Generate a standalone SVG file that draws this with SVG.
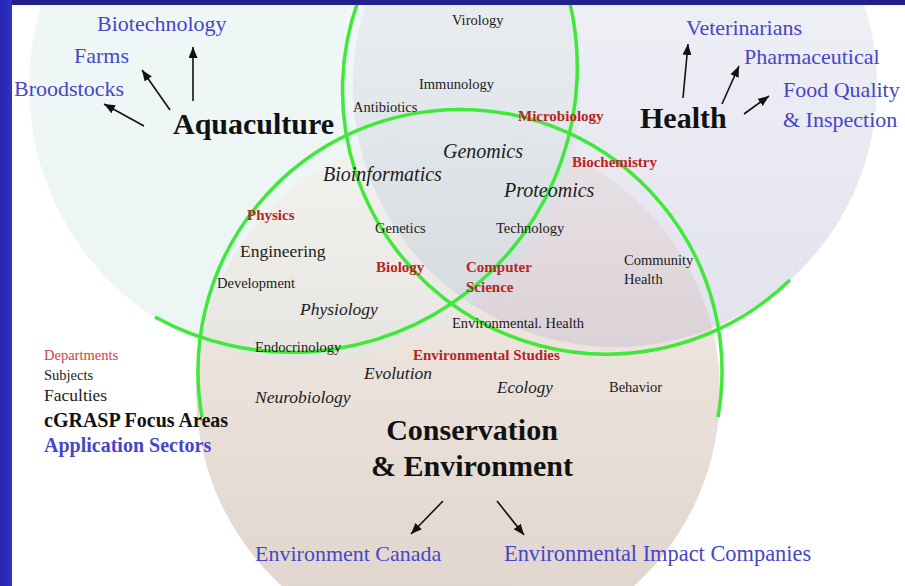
<svg xmlns="http://www.w3.org/2000/svg" width="905" height="586" viewBox="0 0 905 586">
<defs>
<style>
text{font-family:"Liberation Serif","Times New Roman",serif}
.app{fill:#4646c8;font-size:22px}
.big{fill:#111;font-size:30px;font-weight:bold}
.dept{fill:#b82424;font-size:15px;font-weight:bold}
.subj{fill:#1c1c1c;font-size:14.5px}
.mid{fill:#1c1c1c;font-size:17.5px}
.it{fill:#1c1c1c;font-style:italic;font-size:20px}
.its{fill:#1c1c1c;font-style:italic;font-size:17.5px}
.ring{fill:none;stroke:#3fe83a;stroke-width:3.5}
.arrow{stroke:#111;stroke-width:1.6;fill:none;marker-end:url(#ah)}
</style>
<marker id="ah" markerUnits="userSpaceOnUse" markerWidth="12" markerHeight="10" refX="11" refY="4.5" orient="auto">
<path d="M0,0 L11,4.5 L0,9 z" fill="#111"/>
</marker>
<linearGradient id="gA" x1="0" y1="0" x2="0" y2="1"><stop offset="0" stop-color="#f3f9f8"/><stop offset="1" stop-color="#eaf5f4"/></linearGradient>
<linearGradient id="gH" x1="0" y1="0" x2="0" y2="1"><stop offset="0" stop-color="#f5f5f9"/><stop offset="1" stop-color="#e2e2ee"/></linearGradient>
<linearGradient id="gC" x1="0" y1="0" x2="0" y2="1"><stop offset="0" stop-color="#f5eee8"/><stop offset="1" stop-color="#ded3cb"/></linearGradient>
<linearGradient id="gAH" x1="0" y1="0" x2="0" y2="1"><stop offset="0" stop-color="#f2f5f7"/><stop offset="1" stop-color="#d6dce2"/></linearGradient>
<linearGradient id="gAC" x1="0" y1="0" x2="0" y2="1"><stop offset="0" stop-color="#f2f3f0"/><stop offset="1" stop-color="#d8d2cc"/></linearGradient>
<linearGradient id="gHC" x1="0" y1="0" x2="0" y2="1"><stop offset="0" stop-color="#e8e2e6"/><stop offset="1" stop-color="#c9bcc3"/></linearGradient>
<linearGradient id="gAHC" x1="0" y1="0" x2="0" y2="1"><stop offset="0" stop-color="#e0e6ea"/><stop offset="1" stop-color="#c6c3cb"/></linearGradient>
<linearGradient id="gL" x1="0" y1="0" x2="1" y2="0"><stop offset="0" stop-color="#2626b0"/><stop offset="1" stop-color="#3030c6"/></linearGradient>
<clipPath id="clipA"><circle cx="305" cy="86" r="276"/></clipPath>
<clipPath id="clipH"><circle cx="615" cy="85" r="262"/></clipPath>
</defs>
<rect width="905" height="586" fill="#ffffff"/>
<g id="discs">
<circle cx="305" cy="86" r="276" fill="url(#gA)"/>
<circle cx="615" cy="85" r="262" fill="url(#gH)"/>
<circle cx="458" cy="392" r="262" fill="url(#gC)"/>
<circle cx="615" cy="85" r="262" fill="url(#gAH)" clip-path="url(#clipA)"/>
<circle cx="458" cy="392" r="262" fill="url(#gAC)" clip-path="url(#clipA)"/>
<circle cx="458" cy="392" r="262" fill="url(#gHC)" clip-path="url(#clipH)"/>
<g clip-path="url(#clipH)"><circle cx="458" cy="392" r="262" fill="url(#gAHC)" clip-path="url(#clipA)"/></g>
</g>
<g id="rings">
<path class="ring" d="M568.5,-3 A285,285 0 0 1 155,317"/>
<path class="ring" d="M359.5,-3 A264,264 0 0 0 790,280"/>
<path class="ring" d="M202,417 A262,262 0 1 1 718,417"/>
</g>
<g id="frame">
<rect x="0" y="0" width="905" height="5" fill="#20208f"/>
<rect x="0" y="0" width="12" height="586" fill="url(#gL)"/>
</g>
<g id="aquaculture">
<text class="big" x="173" y="134">Aquaculture</text>
</g>
<g id="health">
<text class="big" x="640" y="128">Health</text>
</g>
<g id="conservation">
<text class="big" x="472" y="440" text-anchor="middle">Conservation</text>
<text class="big" x="472" y="476" text-anchor="middle">&amp; Environment</text>
</g>
<g id="sectors">
<text id="biotechnology" class="app" x="97" y="31">Biotechnology</text>
<text id="farms" class="app" x="74" y="63">Farms</text>
<text id="broodstocks" class="app" x="14" y="96">Broodstocks</text>
<text id="veterinarians" class="app" x="686" y="35">Veterinarians</text>
<text id="pharmaceutical" class="app" x="744" y="64">Pharmaceutical</text>
<g id="food-quality"><text class="app" x="783" y="97">Food Quality</text><text class="app" x="783" y="127">&amp; Inspection</text></g>
<text id="environment-canada" class="app" x="255" y="561">Environment Canada</text>
<text id="environmental-impact" class="app" x="504" y="561" style="font-size:22.4px">Environmental Impact Companies</text>
</g>
<g id="departments">
<text class="dept" x="518" y="121">Microbiology</text>
<text class="dept" x="572" y="167">Biochemistry</text>
<text class="dept" x="247" y="220">Physics</text>
<text class="dept" x="376" y="272">Biology</text>
<text class="dept" x="466" y="272">Computer</text>
<text class="dept" x="466" y="292">Science</text>
<text class="dept" x="413" y="360">Environmental Studies</text>
</g>
<g id="subjects">
<text class="subj" x="452" y="25">Virology</text>
<text class="subj" x="419" y="89">Immunology</text>
<text class="subj" x="353" y="112">Antibiotics</text>
<text class="subj" x="375" y="233">Genetics</text>
<text class="subj" x="496" y="233">Technology</text>
<text class="subj" x="217" y="288">Development</text>
<text class="subj" x="255" y="352">Endocrinology</text>
<text class="subj" x="452" y="328">Environmental. Health</text>
<text class="subj" x="624" y="265">Community</text>
<text class="subj" x="624" y="284">Health</text>
<text class="subj" x="609" y="392">Behavior</text>
</g>
<g id="faculties">
<text class="mid" x="240" y="257">Engineering</text>
</g>
<g id="focus-areas">
<text class="it" x="443" y="158">Genomics</text>
<text class="it" x="323" y="181">Bioinformatics</text>
<text class="it" x="504" y="197">Proteomics</text>
<text class="its" x="300" y="315">Physiology</text>
<text class="its" x="364" y="379">Evolution</text>
<text class="its" x="255" y="403">Neurobiology</text>
<text class="its" x="497" y="393" style="font-size:17px">Ecology</text>
</g>
<g id="legend">
<text x="44" y="360" style="fill:#c84444;font-size:14.5px">Departments</text>
<text class="subj" x="44" y="380">Subjects</text>
<text class="mid" x="44" y="401">Faculties</text>
<text x="44" y="427" style="fill:#111;font-size:20px;font-weight:bold">cGRASP Focus Areas</text>
<text x="44" y="452" style="fill:#4646c8;font-size:20px;font-weight:bold">Application Sectors</text>
</g>
<g id="connectors">
<line class="arrow" x1="193" y1="101" x2="193" y2="47"/>
<line class="arrow" x1="170" y1="110" x2="142" y2="70"/>
<line class="arrow" x1="144" y1="126" x2="104" y2="104"/>
<line class="arrow" x1="683" y1="98" x2="688" y2="44"/>
<line class="arrow" x1="722" y1="104" x2="739" y2="66"/>
<line class="arrow" x1="744" y1="114" x2="769" y2="96"/>
<line class="arrow" x1="443" y1="501" x2="411" y2="534"/>
<line class="arrow" x1="497" y1="501" x2="524" y2="535"/>
</g>
</svg>
